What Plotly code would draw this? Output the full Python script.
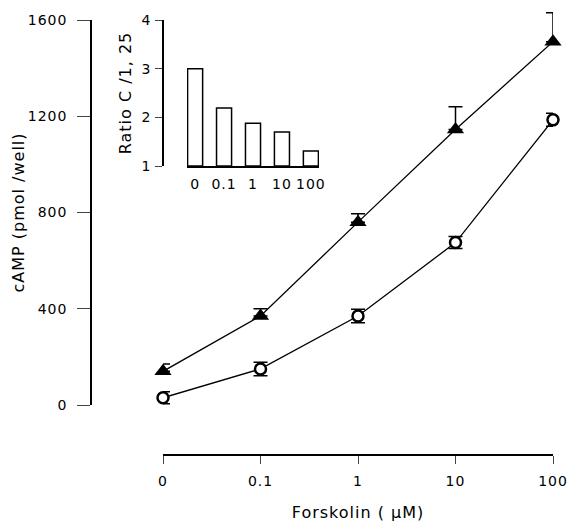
import plotly.graph_objects as go

# ---- data ----
dose_labels = ["0", "0.1", "1", "10", "100"]
tri_values = [140, 370, 760, 1145, 1510]
tri_err = [30, 30, 35, 95, 120]
circ_values = [30, 150, 370, 675, 1185]
circ_err = [25, 28, 28, 25, 27]
ratio_values = [3.0, 2.19, 1.88, 1.70, 1.31]
main_yticks = [0, 400, 800, 1200, 1600]
inset_yticks = [1, 2, 3, 4]

W, H = 573, 522
def px(x):
    return x / W
def py(y):
    return 1 - y / H

FONT = "DejaVu Sans"
pos = list(range(len(dose_labels)))

# pixel geometry of the main value axis
y_top_px, y_bot_px = 20, 405
ymin, ymax = 0, 1600
scale = (y_bot_px - y_top_px) / (ymax - ymin)
data_lo = ymin - (H - y_bot_px) / scale
data_hi = ymax + y_top_px / scale

fig = go.Figure()

# dummy trace to keep the visible value axis
fig.add_trace(go.Scatter(x=[None], y=[None], xaxis="x", yaxis="y",
                         showlegend=False, hoverinfo="skip"))

fig.add_trace(go.Scatter(
    x=pos, y=tri_values, xaxis="x", yaxis="y2", mode="lines+markers",
    line=dict(color="black", width=1.3),
    marker=dict(symbol="triangle-up", size=15, color="black"),
    error_y=dict(type="data", array=tri_err, arrayminus=[0]*5, color="black",
                 thickness=1.5, width=7),
    cliponaxis=False, showlegend=False))

fig.add_trace(go.Scatter(
    x=pos, y=circ_values, xaxis="x", yaxis="y2", mode="lines+markers",
    line=dict(color="black", width=1.3),
    marker=dict(symbol="circle", size=11, color="white",
                line=dict(color="black", width=2.5)),
    error_y=dict(type="data", array=circ_err, color="black",
                 thickness=1.5, width=7),
    cliponaxis=False, showlegend=False))

# inset bars
fig.add_trace(go.Bar(
    x=pos, y=[v - 1 for v in ratio_values], base=1, xaxis="x3", yaxis="y3",
    width=0.52, marker=dict(color="white", line=dict(color="black", width=1.5)),
    showlegend=False))

fig.update_layout(
    width=W, height=H,
    margin=dict(l=0, r=0, t=0, b=0, autoexpand=False),
    paper_bgcolor="white", plot_bgcolor="rgba(0,0,0,0)",
    font=dict(family=FONT, color="black", size=13),
    xaxis=dict(domain=[px(163), px(553)], range=[0, 4], anchor="free",
               position=py(455), tickvals=pos, ticktext=dose_labels,
               ticks="outside", ticklen=8, tickwidth=1.3, showline=True,
               linewidth=1.5, linecolor="black", showgrid=False, zeroline=False,
               tickfont=dict(size=14), automargin=False, ticklabelstandoff=5,
               title=dict(text="Forskolin ( µM)", font=dict(size=16), standoff=18)),
    yaxis=dict(domain=[py(y_bot_px), py(y_top_px)], range=[ymin, ymax],
               anchor="free", position=px(91), tickvals=main_yticks,
               ticks="outside", ticklen=13, tickwidth=1.3, showline=True,
               linewidth=1.5, linecolor="black", showgrid=False, zeroline=False,
               tickfont=dict(size=14), automargin=False, ticklabelstandoff=7,
               title=dict(text="cAMP (pmol /well)", font=dict(size=16), standoff=2)),
    yaxis2=dict(domain=[0, 1], range=[data_lo, data_hi], anchor="x",
                visible=False, automargin=False),
    xaxis3=dict(domain=[px(187), px(319)], range=[-0.28, 4.28], anchor="y3",
                tickvals=pos, ticktext=dose_labels, ticks="", showline=True,
                linewidth=1.5, linecolor="black", showgrid=False, zeroline=False,
                tickfont=dict(size=14), automargin=False, ticklabelstandoff=4),
    yaxis3=dict(domain=[py(166), py(20)], range=[1, 4], anchor="free",
                position=px(163), tickvals=inset_yticks, ticks="outside",
                ticklen=7, tickwidth=1.3, showline=True, linewidth=1.5,
                linecolor="black", showgrid=False, zeroline=False,
                tickfont=dict(size=14), automargin=False, ticklabelstandoff=1,
                title=dict(text="Ratio C /1, 25", font=dict(size=16), standoff=6)),
)

post = ("document.body.style.margin='0';"
        "document.querySelectorAll('.main-svg text').forEach(function(t){"
        "t.style.letterSpacing='1px';});")
fig.write_html("out.html", post_script=post, config={"displayModeBar": False})
